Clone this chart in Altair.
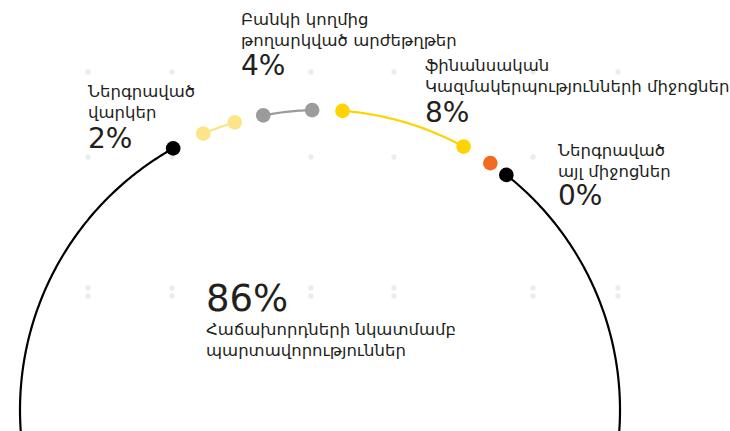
import math
import altair as alt
import pandas as pd

# ---- data ----
keys = ["loans", "securities", "fin_orgs", "other", "customers"]
name_lines = [
    ["Ներգրաված", "վարկեր"],
    ["Բանկի կողմից", "թողարկված արժեթղթեր"],
    ["ֆինանսական", "Կազմակերպությունների միջոցներ"],
    ["Ներգրաված", "այլ միջոցներ"],
    ["Հաճախորդների նկատմամբ", "պարտավորություններ"],
]
shares = [2, 4, 8, 0, 86]
# arc extent in degrees, clockwise from the top of the ring
arc_start = [-22.9, -10.9, 4.3, 34.6, 38.4]
arc_end = [-16.5, -1.5, 28.6, 34.6, 330.7]
colors = ["#fce589", "#9b9b9b", "#ffd300", "#f26b23", "#000000"]

# faint decorative dot grid
grid_x = [88, 172, 311, 394, 533, 618]
grid_rows = [72, 157, 288, 296]

# ---- layout ----
W, H = 730, 431
CX, CY, R = 320, 410, 300
label_x = [88, 241, 425, 558, 206]
name_base = [97, 25, 71, 156, 335]
pct_base = [148, 75, 122, 205, 311]
LINE_GAP = 20.5


def pos(deg):
    a = math.radians(deg)
    return CX + R * math.sin(a), CY - R * math.cos(a)


line_rows = []
dot_rows = []
for k, s, e in zip(keys, arc_start, arc_end):
    if e > s:
        n = int((e - s) / 0.5) + 2
        for i in range(n):
            d = s + (e - s) * i / (n - 1)
            x, y = pos(d)
            line_rows.append({"key": k, "i": i, "x": x, "y": y})
    for d in sorted(set([s, e])):
        x, y = pos(d)
        dot_rows.append({"key": k, "x": x, "y": y})

name_rows = []
pct_rows = []
for k, lines, sh, lx, nb, pb in zip(keys, name_lines, shares, label_x, name_base, pct_base):
    for j, t in enumerate(lines):
        name_rows.append({"x": lx, "y": nb + j * LINE_GAP, "text": t})
    pct_rows.append({"x": lx, "y": pb, "text": f"{sh}%", "big": k == "customers"})

grid_rows_df = [
    {"x": gx, "y": gy}
    for gy in grid_rows
    for gx in grid_x
    if not (gy == 157 and gx == 618)
]

xs = alt.X("x:Q", scale=alt.Scale(domain=[0, W], nice=False, zero=False), axis=None)
ys = alt.Y("y:Q", scale=alt.Scale(domain=[0, H], reverse=True, nice=False, zero=False), axis=None)
col = alt.Color("key:N", scale=alt.Scale(domain=keys, range=colors), legend=None)

grid = alt.Chart(pd.DataFrame(grid_rows_df)).mark_circle(
    size=28, color="#ececec", opacity=1
).encode(x=xs, y=ys)

arcs = alt.Chart(pd.DataFrame(line_rows)).mark_line(
    strokeWidth=2.2, strokeCap="round", clip=True
).encode(x=xs, y=ys, color=col, detail="key:N", order="i:Q")

dots = alt.Chart(pd.DataFrame(dot_rows)).mark_circle(size=215, opacity=1).encode(
    x=xs, y=ys, color=col
)

names = alt.Chart(pd.DataFrame(name_rows)).mark_text(
    align="left", baseline="alphabetic", font="DejaVu Sans", fontSize=16.5, color="#231f20"
).encode(x=xs, y=ys, text="text:N")

pdf = pd.DataFrame(pct_rows)
pct_small = alt.Chart(pdf[~pdf["big"]]).mark_text(
    align="left", baseline="alphabetic", font="DejaVu Sans", fontSize=28, color="#231f20"
).encode(x=xs, y=ys, text="text:N")
pct_big = alt.Chart(pdf[pdf["big"]]).mark_text(
    align="left", baseline="alphabetic", font="DejaVu Sans", fontSize=37, color="#231f20"
).encode(x=xs, y=ys, text="text:N")

chart = (
    alt.layer(grid, arcs, dots, names, pct_small, pct_big)
    .properties(width=W, height=H, autosize=alt.AutoSizeParams(type="none"), padding=0,
                background="#ffffff")
    .configure_view(stroke=None)
)

chart.save("out.html", embed_options={"renderer": "svg", "actions": False})
